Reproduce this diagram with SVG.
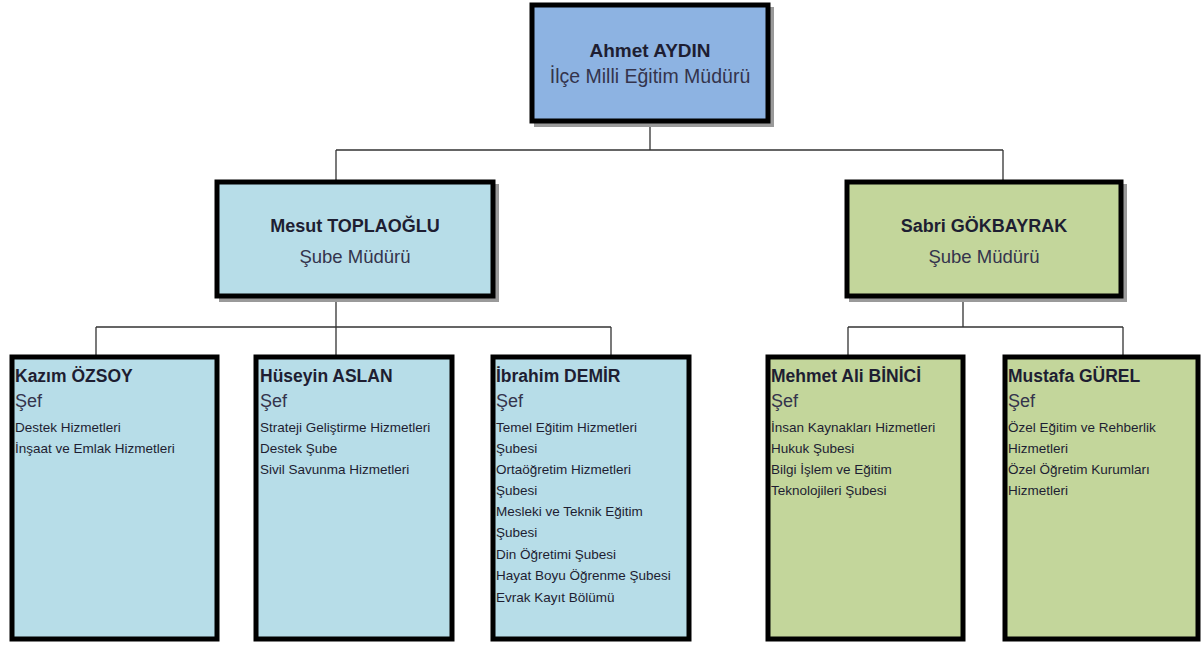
<svg xmlns="http://www.w3.org/2000/svg" width="1203" height="647" viewBox="0 0 1203 647">
<style>
.box{stroke:#000;stroke-width:5}
.blue{fill:#8db3e2}
.lb{fill:#b7dde8}
.gr{fill:#c3d69b}
.sh{fill:#9a9a9a}
text{font-family:"Liberation Sans",Arial,sans-serif}
.nm{font-weight:bold;font-size:17.5px;fill:#1e1e32}
.tn{font-size:19px}
.mn{font-size:18px}
.sub{font-size:18.5px;fill:#34344c}
.ts{font-size:19.5px}
.sef{font-size:18px;fill:#34344c}
.it{font-size:13.5px;fill:#1e1e32}
.c{text-anchor:middle}
.ln{stroke:#333;stroke-width:1.3;fill:none}
</style>
<rect width="1203" height="647" fill="#fff"/>
<g id="connectors">
<path class="ln" d="M650 123V150M336 150H1003M336 150V180M1003 150V180"/>
<path class="ln" d="M336 298V327M96 327H611M96 327V356M336 327V356M611 327V356"/>
<path class="ln" d="M963 298V327M848 327H1123M848 327V356M1123 327V356"/>
</g>
<g id="n-ahmet">
<rect class="sh" x="534" y="7" width="240" height="120"/>
<rect class="box blue" x="532" y="5" width="236" height="116"/>
<text class="nm tn c" x="650" y="57">Ahmet AYDIN</text>
<text class="sub ts c" x="650" y="83">İlçe Milli Eğitim Müdürü</text>
</g>
<g id="n-mesut">
<rect class="sh" x="219" y="184" width="280" height="118"/>
<rect class="box lb" x="217" y="182" width="276" height="114"/>
<text class="nm mn c" x="355" y="232">Mesut TOPLAOĞLU</text>
<text class="sub c" x="355" y="263">Şube Müdürü</text>
</g>
<g id="n-sabri">
<rect class="sh" x="849" y="184" width="278" height="118"/>
<rect class="box gr" x="847" y="182" width="274" height="114"/>
<text class="nm mn c" x="984" y="232">Sabri GÖKBAYRAK</text>
<text class="sub c" x="984" y="263">Şube Müdürü</text>
</g>
<g id="n-kazim">
<rect class="box lb" x="12" y="357" width="205" height="282"/>
<text class="nm" x="15" y="382">Kazım ÖZSOY</text>
<text class="sef" x="15" y="407">Şef</text>
<text class="it" x="15" y="432">Destek Hizmetleri</text>
<text class="it" x="15" y="453">İnşaat ve Emlak Hizmetleri</text>
</g>
<g id="n-huseyin">
<rect class="box lb" x="256" y="357" width="196" height="282"/>
<text class="nm" x="260" y="382">Hüseyin ASLAN</text>
<text class="sef" x="260" y="407">Şef</text>
<text class="it" x="260" y="432">Strateji Geliştirme Hizmetleri</text>
<text class="it" x="260" y="453">Destek Şube</text>
<text class="it" x="260" y="474">Sivil Savunma Hizmetleri</text>
</g>
<g id="n-ibrahim">
<rect class="box lb" x="493" y="357" width="196" height="282"/>
<text class="nm" x="496" y="382">İbrahim DEMİR</text>
<text class="sef" x="496" y="407">Şef</text>
<text class="it" x="496" y="432">Temel Eğitim Hizmetleri</text>
<text class="it" x="496" y="453">Şubesi</text>
<text class="it" x="496" y="474">Ortaöğretim Hizmetleri</text>
<text class="it" x="496" y="495">Şubesi</text>
<text class="it" x="496" y="516">Mesleki ve Teknik Eğitim</text>
<text class="it" x="496" y="537">Şubesi</text>
<text class="it" x="496" y="559">Din Öğretimi Şubesi</text>
<text class="it" x="496" y="580">Hayat Boyu Öğrenme Şubesi</text>
<text class="it" x="496" y="602">Evrak Kayıt Bölümü</text>
</g>
<g id="n-mehmet">
<rect class="box gr" x="768" y="357" width="195" height="282"/>
<text class="nm" x="771" y="382">Mehmet Ali BİNİCİ</text>
<text class="sef" x="771" y="407">Şef</text>
<text class="it" x="771" y="432">İnsan Kaynakları Hizmetleri</text>
<text class="it" x="771" y="453">Hukuk Şubesi</text>
<text class="it" x="771" y="474">Bilgi İşlem ve Eğitim</text>
<text class="it" x="771" y="495">Teknolojileri Şubesi</text>
</g>
<g id="n-mustafa">
<rect class="box gr" x="1005" y="357" width="193" height="282"/>
<text class="nm" x="1008" y="382">Mustafa GÜREL</text>
<text class="sef" x="1008" y="407">Şef</text>
<text class="it" x="1008" y="432">Özel Eğitim ve Rehberlik</text>
<text class="it" x="1008" y="453">Hizmetleri</text>
<text class="it" x="1008" y="474">Özel Öğretim Kurumları</text>
<text class="it" x="1008" y="495">Hizmetleri</text>
</g>
</svg>
